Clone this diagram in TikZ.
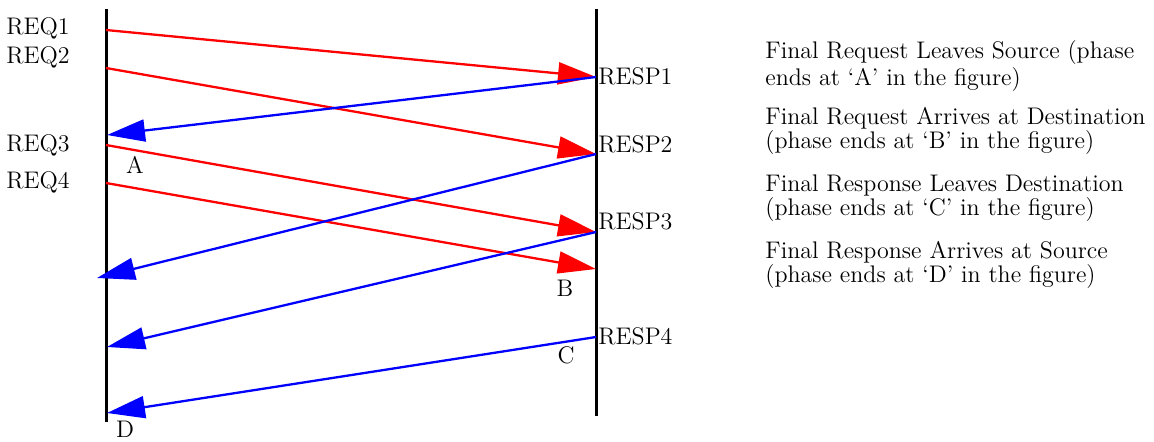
\documentclass[tikz,border=0pt]{standalone}
\usetikzlibrary{arrows.meta}

\begin{document}
\begin{tikzpicture}[x=0.5pt, y=-0.5pt, every node/.style={font=\fontsize{12}{11}\selectfont, inner sep=1pt},
  lane/.style={line width=1.5pt},
  req/.style={red, line width=1.15pt, -{Triangle[length=19pt, width=11pt]}},
  resp/.style={blue, line width=1.15pt, -{Triangle[length=19pt, width=11pt]}},
  phase/.style={anchor=west, align=left}]
\useasboundingbox (0,0) rectangle (1154,441);
% source and destination time lines
\coordinate (srctop) at (106,9);
\coordinate (srcbot) at (106,422);
\coordinate (dsttop) at (596,9);
\coordinate (dstbot) at (596,416);
\draw[lane] (srctop) -- (srcbot);
\draw[lane] (dsttop) -- (dstbot);
% request send points and response points
\coordinate (q1) at (106,30);
\coordinate (q2) at (106,68);
\coordinate (q3) at (106,145);
\coordinate (q4) at (106,183);
\coordinate (p1) at (596,77);
\coordinate (p2) at (596,154);
\coordinate (p3) at (596,232);
\coordinate (p4) at (596,337);
\coordinate (qend) at (596,269);
\coordinate (a1) at (107,135);
\coordinate (a2) at (97,278);
\coordinate (a3) at (107,347);
\coordinate (a4) at (107,413);
% labels
\node[anchor=east] (lq1) at (72,28) {REQ1};
\node[anchor=east] (lq2) at (72,57) {REQ2};
\node[anchor=east] (lq3) at (72,145) {REQ3};
\node[anchor=east] (lq4) at (72,182) {REQ4};
\node[anchor=west] (lp1) at (596,76) {RESP1};
\node[anchor=west] (lp2) at (596,144) {RESP2};
\node[anchor=west] (lp3) at (596,221) {RESP3};
\node[anchor=west] (lp4) at (596,336) {RESP4};
\node (ma) at (135,165) {A};
\node (mb) at (565,288) {B};
\node (mc) at (566,355) {C};
\node (md) at (125,429) {D};
% arrows
\draw[req] (q1) -- (p1);
\draw[req] (q2) -- (p2);
\draw[req] (q3) -- (p3);
\draw[req] (q4) -- (qend);
\draw[resp] (p1) -- (a1);
\draw[resp] (p2) -- (a2);
\draw[resp] (p3) -- (a3);
\draw[resp] (p4) -- (a4);
% phases
\node[phase] (ph1) at (763,66) {Final Request Leaves Source (phase\\ends at `A' in the figure)};
\node[phase] (ph2) at (763,131) {Final Request Arrives at Destination\\(phase ends at `B' in the figure)};
\node[phase] (ph3) at (763,198) {Final Response Leaves Destination\\(phase ends at `C' in the figure)};
\node[phase] (ph4) at (763,265) {Final Response Arrives at Source\\(phase ends at `D' in the figure)};
\end{tikzpicture}
\end{document}
